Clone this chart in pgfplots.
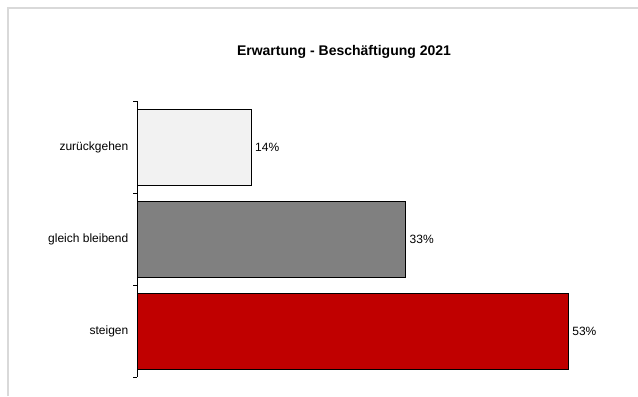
\documentclass[border=0pt]{standalone}
\usepackage{fontspec}
\setmainfont{Liberation Sans}
\usepackage{pgfplots}
\pgfplotsset{compat=1.18}
\definecolor{framegray}{RGB}{217,217,217}
\definecolor{lightbar}{RGB}{242,242,242}
\definecolor{midbar}{RGB}{128,128,128}
\definecolor{redbar}{RGB}{192,0,0}
\begin{document}
\begin{tikzpicture}[x=0.75pt,y=0.75pt]
\useasboundingbox (0,0) rectangle (638,396);
\fill[white] (0,0) rectangle (638,396);
\draw[framegray, line width=1.2pt] (8,0) -- (8,388) -- (638,388);
\node[font=\bfseries\fontsize{10.5}{12}\selectfont] at (344,344) {Erwartung - Beschäftigung 2021};
\begin{axis}[
  at={(102.75pt,14.25pt)}, anchor=south west,
  scale only axis, width=366pt, height=207pt,
  xmin=0, xmax=60, ymin=-0.5, ymax=2.5,
  axis x line=none, axis y line=left, y axis line style={-, line width=0.6pt},
  ytick={0,1,2}, yticklabels={steigen, gleich bleibend, zurückgehen},
  major tick length=0pt,
  minor ytick={-0.5,0.5,1.5,2.5}, minor tick length=3pt, tick align=outside,
  minor tick style={line width=0.6pt, black},
  yticklabel style={font=\fontsize{9}{10}\selectfont, xshift=-3pt},
  xbar, bar width=57pt, bar shift=0pt,
  point meta=x,
  /pgf/number format/assume math mode=true,
  nodes near coords={\pgfmathprintnumber{\pgfplotspointmeta}\%},
  nodes near coords style={font=\fontsize{9}{10}\selectfont, inner sep=3pt},
  clip=false,
]
\addplot[draw=black, line width=0.5pt, fill=redbar] coordinates {(53,0)};
\addplot[draw=black, line width=0.5pt, fill=midbar] coordinates {(33,1)};
\addplot[draw=black, line width=0.5pt, fill=lightbar] coordinates {(14,2)};
\end{axis}
\end{tikzpicture}
\end{document}
